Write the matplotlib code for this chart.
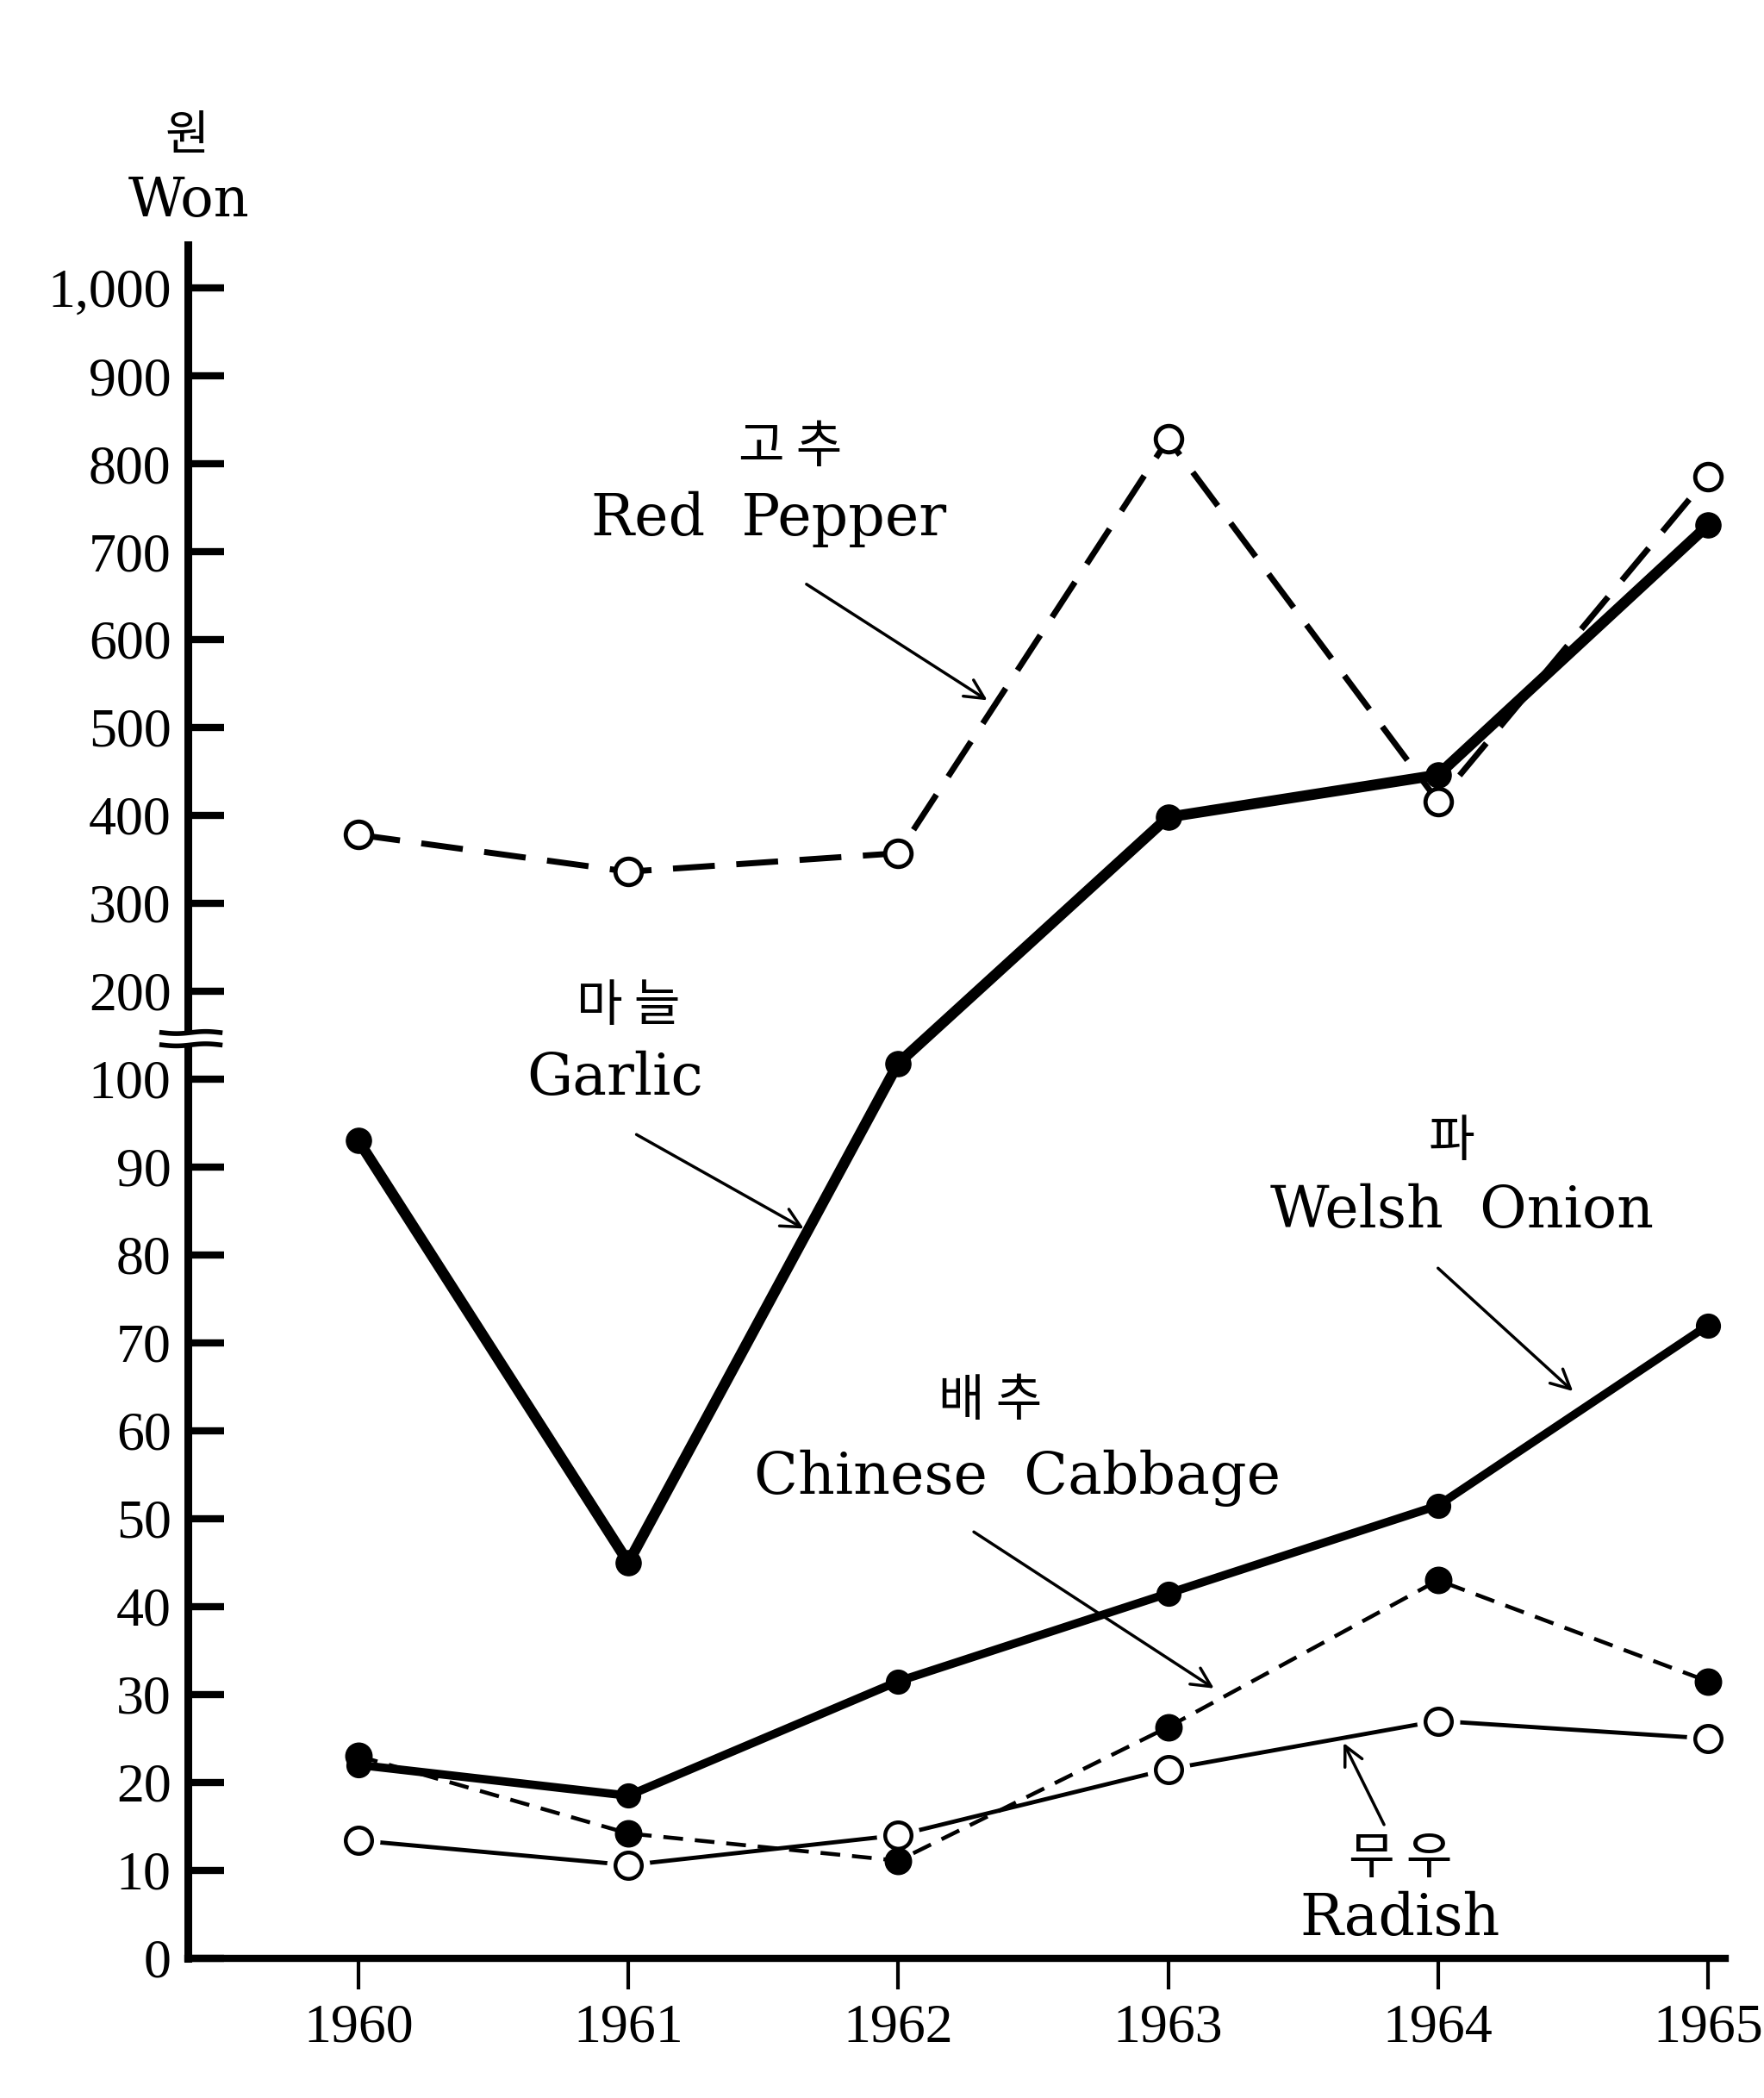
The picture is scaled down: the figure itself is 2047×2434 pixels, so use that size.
import matplotlib.pyplot as plt
import numpy as np

years = [1960, 1961, 1962, 1963, 1964, 1965]

# retail prices, won
red_pepper = [378, 336, 357, 828, 416, 785]
garlic = [93, 45, 118, 398, 446, 730]
welsh_onion = [22, 18.5, 31.5, 41.5, 51.5, 72]
cabbage = [23, 14.2, 11.1, 26.3, 43, 31.5]
radish = [13.4, 10.6, 14.0, 21.5, 27, 25]

ytick_vals = [0, 10, 20, 30, 40, 50, 60, 70, 80, 90, 100,
              200, 300, 400, 500, 600, 700, 800, 900, 1000]
ytick_text = ['0', '10', '20', '30', '40', '50', '60', '70', '80', '90', '100',
              '200', '300', '400', '500', '600', '700', '800', '900', '1,000']


# 0-100 in steps of 10, then 100-1000 in steps of 100, same spacing
def fwd(v):
    v = np.asarray(v, dtype=float)
    return np.where(v <= 100, v / 10, 10 + (v - 100) / 100)


def inv(u):
    u = np.asarray(u, dtype=float)
    return np.where(u <= 10, u * 10, 100 + (u - 10) * 100)


SERIF = ['DejaVu Serif']
NUM = ['Liberation Serif']
KR = ['Noto Sans CJK KR']

fig = plt.figure(figsize=(20.47, 24.34), dpi=100)
ax = fig.add_axes([0.1065, 0.0666, 0.8715, 0.8167])
ax.set_yscale('function', functions=(fwd, inv))

# radish: thin line broken around the open circles
ax.plot(years, radish, color='black', lw=3.5, zorder=2)
ax.plot(years, radish, ls='none', marker='o', ms=36, mfc='white', mec='none', zorder=2.1)
ax.plot(years, radish, ls='none', marker='o', ms=22, mfc='white', mec='black', mew=3.2, zorder=2.2)

ax.plot(years, cabbage, color='black', lw=3.3, dashes=(5, 3), marker='o', ms=22,
        mfc='black', mec='black', zorder=3)
ax.plot(years, welsh_onion, color='black', lw=7, marker='o', ms=20,
        mfc='black', mec='black', zorder=4)
ax.plot(years, garlic, color='black', lw=9, marker='o', ms=21,
        mfc='black', mec='black', zorder=4)
ax.plot(years, red_pepper, color='black', lw=5, dashes=(7, 3.6), marker='o', ms=22,
        mfc='white', mec='black', mew=3.5, zorder=5)

ax.set_xlim(1959.368, 1965.064)
ax.set_ylim(0, 1049)

ax.set_xticks(years)
ax.set_xticklabels([str(y) for y in years], family=NUM, fontsize=46)
ax.set_yticks(ytick_vals)
ax.set_yticklabels(ytick_text, family=NUM, fontsize=46)
ax.minorticks_off()
ax.tick_params(axis='x', direction='out', length=26, width=3, pad=12)
ax.tick_params(axis='y', direction='in', length=30, width=6, pad=14)

for side in ['top', 'right']:
    ax.spines[side].set_visible(False)
ax.spines['left'].set_linewidth(6.5)
ax.spines['bottom'].set_linewidth(6)

# axis break between 100 and 200
ytr = ax.get_yaxis_transform()
ax.fill_between([-0.01, 0.01], 139, 153, color='white', transform=ytr,
                clip_on=False, zorder=6)
bx = np.linspace(-0.017, 0.021, 30)
wave = np.sin((bx + 0.017) / 0.038 * 2 * np.pi)
ax.plot(bx, 139 - 1.2 * wave, color='black', lw=4, transform=ytr, clip_on=False, zorder=7)
ax.plot(bx, 153 - 1.2 * wave, color='black', lw=4, transform=ytr, clip_on=False, zorder=7)

# unit label
fig.text(0.106, 0.935, '원', family=KR, fontsize=40, ha='center', va='center')
fig.text(0.107, 0.904, 'Won', family=SERIF, fontsize=46, ha='center', va='center')

# series labels with pointers
labels = [
    ('고 추', (1961.60, 818), 'Red  Pepper', (1961.52, 737),
     (1961.66, 663), (1962.33, 531)),
    ('마 늘', (1961.00, 183), 'Garlic', (1960.95, 101),
     (1961.03, 93.7), (1961.65, 83.0)),
    ('파', (1964.05, 92.9), 'Welsh  Onion', (1964.09, 85),
     (1964.00, 78.5), (1964.50, 64.5)),
    ('배 추', (1962.34, 63.4), 'Chinese  Cabbage', (1962.44, 54.6),
     (1962.28, 48.5), (1963.17, 30.7)),
    ('무 우', (1963.86, 11.3), 'Radish', (1963.86, 4.5),
     (1963.80, 15.2), (1963.65, 24.5)),
]
for kr, kr_xy, en, en_xy, start, tip in labels:
    ax.text(*kr_xy, kr, family=KR, fontsize=42, ha='center', va='center', zorder=8)
    ax.text(*en_xy, en, family=SERIF, fontsize=48, ha='center', va='center', zorder=8)
    ax.annotate('', xy=tip, xytext=start,
                arrowprops=dict(arrowstyle='->', color='black', lw=2.5,
                                mutation_scale=40, shrinkA=0, shrinkB=0),
                zorder=8)

fig.savefig('out.png', dpi=100, facecolor='white')
